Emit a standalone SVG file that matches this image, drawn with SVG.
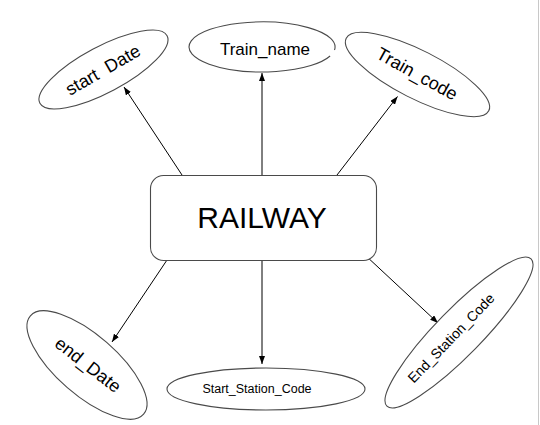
<svg xmlns="http://www.w3.org/2000/svg" width="540" height="425" viewBox="0 0 540 425">
<defs>
<marker id="ah" markerWidth="8" markerHeight="6" refX="8" refY="3" orient="auto" markerUnits="userSpaceOnUse">
<path d="M0,0 L8,3 L0,6 Z" fill="#000"/>
</marker>
<style>
.sh{fill:#fff;stroke:#4a4a4a;stroke-width:1.1}
.lb{font-family:"Liberation Sans",Arial,sans-serif;fill:#000;text-anchor:middle}
.cn line{stroke:#000;stroke-width:1;marker-end:url(#ah)}
</style>
</defs>
<rect width="540" height="425" fill="#fff"/>
<line x1="538.5" y1="0" x2="538.5" y2="425" stroke="#c8c8c8" stroke-width="1"/>
<g id="connectors" class="cn">
<line x1="182" y1="175" x2="124" y2="87"/>
<line x1="262" y1="175" x2="262" y2="73"/>
<line x1="337" y1="175" x2="397.5" y2="96.5"/>
<line x1="167" y1="260" x2="112" y2="342"/>
<line x1="262" y1="260" x2="262" y2="364"/>
<line x1="365" y1="255" x2="438" y2="323"/>
</g>
<g id="railway">
<rect class="sh" x="150.5" y="175.5" width="226" height="85" rx="13"/>
<text class="lb" x="262" y="228" font-size="30">RAILWAY</text>
</g>
<g id="start_date">
<ellipse class="sh" cx="0" cy="0" rx="72" ry="23" transform="translate(103.5,69.5) rotate(-28)"/>
<text class="lb" x="0" y="6" font-size="18" xml:space="preserve" transform="translate(103,70) rotate(-30)">start  Date</text>
</g>
<g id="train_name">
<path class="sh" d="M330.1,56 A73,25 0 1 1 334.5,50"/>
<text class="lb" x="265" y="55" font-size="17">Train_name</text>
</g>
<g id="train_code">
<ellipse class="sh" cx="0" cy="0" rx="80" ry="24" transform="translate(417.5,74.5) rotate(27)"/>
<text class="lb" x="0" y="6" font-size="18" transform="translate(417,74) rotate(29)">Train_code</text>
</g>
<g id="end_date">
<ellipse class="sh" cx="0" cy="0" rx="75" ry="30" transform="translate(87,365) rotate(41)"/>
<text class="lb" x="0" y="6" font-size="18" transform="translate(88,365) rotate(38)">end_Date</text>
</g>
<g id="start_station_code">
<ellipse class="sh" cx="266" cy="389" rx="99" ry="21"/>
<text class="lb" x="257" y="393" font-size="12.5">Start_Station_Code</text>
</g>
<g id="end_station_code">
<ellipse class="sh" cx="0" cy="0" rx="103" ry="23" transform="translate(459,332.5) rotate(-45.6)"/>
<text class="lb" x="0" y="5" font-size="14" transform="translate(451,338) rotate(-46)">End_Station_Code</text>
</g>
</svg>
